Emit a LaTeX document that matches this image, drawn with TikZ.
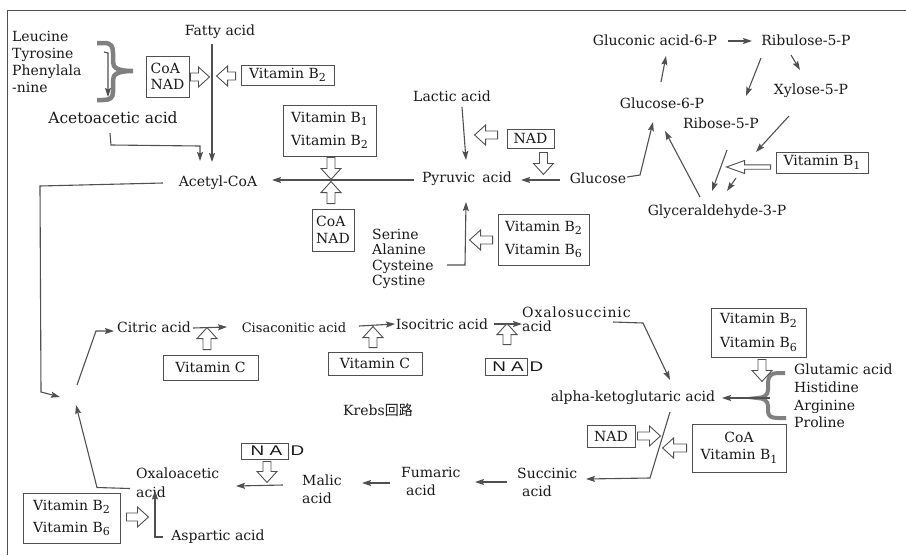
\documentclass[tikz,border=0pt]{standalone}
\usepackage{fontspec}
\setmainfont{DejaVu Serif}
\newfontfamily\nadfont[FakeStretch=1.35]{Liberation Sans}
\newfontfamily\cjk{Noto Sans CJK JP}
\usetikzlibrary{arrows.meta,calc}
\definecolor{linegray}{RGB}{80,80,80}
\definecolor{txtgray}{RGB}{25,25,25}
\definecolor{bracegray}{RGB}{128,128,128}
\tikzset{
    chem/.style={font=\fontsize{14}{17}\selectfont, text=txtgray, inner sep=0pt},
    chemlist/.style={chem, align=left, anchor=north west},
    chempair/.style={chem, align=left, anchor=west},
    vitbox/.style={draw=linegray, line width=0.9pt, font=\fontsize{14}{23}\selectfont,
                   text=txtgray, inner sep=0pt, align=left},
    nadbox/.style={draw=linegray, line width=0.9pt, font=\nadfont\fontsize{14}{16}\selectfont,
                   text=txtgray, inner sep=0pt},
    flow/.style={draw=linegray, line width=1.1pt, -{Stealth[length=9pt,width=6pt,inset=1.5pt]}},
    hollowarrow/.style={draw=linegray, line width=0.9pt, fill=white, line join=miter},
    bracepath/.style={draw=bracegray, line width=4.5pt},
    frame/.style={draw=linegray, line width=1pt},
}
% vitamin index
\newcommand{\vsub}[1]{\raisebox{-3.5pt}{\fontsize{11}{12}\selectfont #1}}
% hollow block arrow: [head half-width]{tail}{angle}{length}
\newcommand{\blockarrow}[4][10]{%
  \draw[hollowarrow, shift={#2}, rotate=#3]
    (0,-4) -- ({#4-11},-4) -- ({#4-11},-#1) -- (#4,0) -- ({#4-11},#1) -- ({#4-11},4) -- (0,4) -- cycle;}

\begin{document}
\begin{tikzpicture}[x=1pt, y=-1pt]
    \useasboundingbox (0,0) rectangle (906,555);
    \draw[frame] (906,10) -- (7,10) -- (7,555);

    % Amino acids to acetoacetic acid
    \node[chemlist] (amino) at (12,31) {Leucine\\Tyrosine\\Phenylala\\-nine};
    \draw[bracepath] (97,43) -- (104,43) .. controls (111,43) and (113,46) .. (113,53) -- (113,62)
        .. controls (113,68) and (118,71) .. (133,71) .. controls (118,71) and (113,74) .. (113,80)
        -- (113,92) .. controls (113,98) and (110,100) .. (103,100) -- (97,100);
    \node[chem, font=\fontsize{15.5}{17}\selectfont] (acac) at (113,118) {Acetoacetic acid};
    \draw[flow] ($(acac)+(-9,-66)$) -- ++(4,1) -- ($(acac)+(-5,-21)$);

    % Fatty acid
    \node[chem] (fatty) at (220,32) {Fatty acid};
    \node[vitbox, font=\fontsize{14}{16}\selectfont, minimum width=43, minimum height=41] (coanadA) at (167.5,76.5) {CoA\\NAD};
    \node[vitbox, minimum width=93, minimum height=20, align=center] (vitBtwoA) at (287.5,75) {Vitamin B\vsub{2}};
    \blockarrow{($(coanadA.east)+(1,0.5)$)}{0}{19}
    \blockarrow{($(vitBtwoA.west)+(-5,1)$)}{180}{19}

    % Acetyl-CoA
    \node[chem] (acetyl) at (218,183) {Acetyl-CoA};
    \draw[flow] ($(fatty)+(-8,12)$) -- ($(acetyl)+(-6,-21)$);
    \draw[flow] ($(acac)+(-3,15)$) -- ++(1,12) -- ($(acetyl)+(-18,-37)$) -- ($(acetyl)+(-18,-22)$);

    % Pyruvic acid
    \node[chem] (pyruvic) at (467,179) {Pyruvic\hspace{7pt}acid};
    \node[chem] (lactic) at (452,96) {Lactic acid};
    \node[chem] (glucose) at (598,178) {Glucose};
    \node[vitbox, minimum width=93, minimum height=51] (vitBonetwo) at (329.5,130.5) {Vitamin B\vsub{1}\\Vitamin B\vsub{2}};
    \node[vitbox, font=\fontsize{14}{17}\selectfont, minimum width=42, minimum height=42] (coanadB) at (333,230) {CoA\\NAD};
    \node[vitbox, minimum width=47, minimum height=19, align=center] (nadA) at (530.5,138.5) {NAD};
    \node[vitbox, minimum width=91, minimum height=51] (vitBtwosixA) at (543.5,239.5) {Vitamin B\vsub{2}\\Vitamin B\vsub{6}};
    \node[chemlist, font=\fontsize{14}{15.3}\selectfont] (serine) at (372,229) {Serine\\Alanine\\Cysteine\\Cystine};
    \draw[flow] ($(pyruvic)+(-53,1)$) -- ($(acetyl)+(54,-3)$);
    \draw[flow] ($(lactic)+(10,11)$) -- ($(pyruvic)+(-1,-19)$);
    \draw[flow] ($(glucose)+(-38,2)$) -- ($(pyruvic)+(54,1)$);
    \draw[flow] ($(serine.north west)+(75,36)$) -- ++(18,0) -- ($(pyruvic)+(-1,23)$);
    \blockarrow{($(vitBonetwo.south)+(1.5,1)$)}{-90}{22}
    \blockarrow{($(coanadB.north)+(-2,-5)$)}{90}{22}
    \blockarrow{($(nadA.west)+(-9,-3.5)$)}{180}{23}
    \blockarrow{($(nadA.south east)+(-11,4)$)}{-90}{22}
    \blockarrow{($(vitBtwosixA.west)+(-5,0.5)$)}{180}{23}

    % Pentose phosphate pathway
    \node[chem] (gluconic) at (655,40) {Gluconic acid-6-P};
    \node[chem] (ribulose) at (806,40) {Ribulose-5-P};
    \node[chem] (xylose) at (811,91) {Xylose-5-P};
    \node[chem] (gsixp) at (662,103) {Glucose-6-P};
    \node[chem] (ribose) at (721,123) {Ribose-5-P};
    \node[chem] (gap) at (717,212) {Glyceraldehyde-3-P};
    \node[vitbox, minimum width=92, minimum height=21, align=center] (vitBoneA) at (822,162.5) {Vitamin B\vsub{1}};
    \draw[flow] ($(gluconic)+(73,1)$) -- ($(ribulose)+(-54,1)$);
    \draw[flow] ($(gsixp)+(-1,-21)$) -- ($(gluconic)+(11,16)$);
    \draw[flow] ($(ribulose)+(-45,18)$) -- ($(ribose)+(25,-27)$);
    \draw[flow] ($(ribulose)+(-15,15)$) -- ($(xylose)+(-11,-21)$);
    \draw[flow] ($(glucose)+(29,-1)$) -- ++(13,-2) -- ($(gsixp)+(-9,19)$);
    \draw[flow] ($(gap)+(-17,-15)$) -- ($(gsixp)+(3,28)$);
    \draw[flow] ($(xylose)+(-22,25)$) -- ($(gap)+(39,-60)$);
    \draw[flow] ($(ribose)+(6,27)$) -- ($(gap)+(-5,-21)$);
    \draw[flow] ($(gap)+(19,-34)$) -- ($(gap)+(10,-21)$);
    \draw[hollowarrow, shift={($(vitBoneA.west)+(-5,4.5)$)}, rotate=180]
        (0,-2.2) -- (26,-2.2) -- (26,-6.5) -- (44,0) -- (26,6.5) -- (26,2.2) -- (0,2.2) -- cycle;

    % Krebs cycle
    \coordinate (tca) at (70,395);
    \draw[flow] ($(acetyl)+(-55,0)$) -- ++(-123,3) -- ++(1,206) -- ($(tca)+(-10,2)$);
    \node[chem] (citric) at (154,327) {Citric acid};
    \node[chem, font=\fontsize{13}{15}\selectfont] (cisacon) at (294,328) {Cisaconitic acid};
    \node[chem] (isocit) at (442,324) {Isocitric acid};
    \node[chempair, font=\fontsize{14}{14}\selectfont] (oxalos) at (522,319) {\addfontfeatures{LetterSpace=6}Oxalosuccinic\\acid};
    \node[vitbox, minimum width=95, minimum height=25, align=center] (vitCA) at (210.5,367.5) {Vitamin C};
    \node[vitbox, minimum width=94, minimum height=23, align=center] (vitCB) at (375,363.5) {Vitamin C};
    \node[nadbox, minimum width=42, minimum height=17] (nadB) at (506,366.5) {\hspace{4pt}N A};
    \node[chem, font=\nadfont\fontsize{14}{16}\selectfont, anchor=west] (nadBd) at ($(nadB.east)+(2,0)$) {D};
    \draw[flow] ($(tca)+(7,-10)$) -- ($(citric)+(-58,4)$) -- ($(citric)+(-40,4)$);
    \draw[flow] ($(citric)+(39,1)$) -- ($(cisacon)+(-67,-1)$);
    \draw[flow] ($(cisacon)+(65,-2)$) -- ($(isocit)+(-47,0)$);
    \draw[flow] ($(isocit)+(52,0)$) -- ($(oxalos.west)+(0,5)$);
    \blockarrow{($(vitCA.north)+(-3.5,-5)$)}{90}{22}
    \blockarrow{($(vitCB.north)+(-2,-4)$)}{90}{21}
    \blockarrow{($(nadB.north)+(1,-13)$)}{90}{21}

    \node[chem] (akg) at (633,398) {alpha-ketoglutaric acid};
    \node[vitbox, font=\fontsize{14}{24}\selectfont, minimum width=95, minimum height=49] (vitBtwosixB) at (758.5,332.5) {Vitamin B\vsub{2}\\Vitamin B\vsub{6}};
    \draw[bracepath, line width=4pt] (785,373) -- (778,373) .. controls (771,373) and (768,376) .. (768,383) -- (768,390)
        .. controls (768,395) and (764,398) .. (757,398) .. controls (764,398) and (768,401) .. (768,406)
        -- (768,411) .. controls (768,416) and (771,418) .. (778,418) -- (786,418);
    \node[chemlist, font=\fontsize{14}{17.7}\selectfont] (glut) at (794,364) {Glutamic acid\\Histidine\\Arginine\\Proline};
    \draw[flow] ($(oxalos.west)+(91,3)$) -- ++(30,1) -- ($(akg)+(37,-18)$);
    \draw[flow] ($(akg)+(137,0)$) -- ($(akg)+(89,0)$);
    \blockarrow{($(vitBtwosixB.south)+(3.5,2)$)}{-90}{22}

    \node[vitbox, minimum width=48, minimum height=22, align=center] (nadC) at (611,436) {NAD};
    \node[vitbox, font=\fontsize{14}{17}\selectfont, minimum width=94, minimum height=48, align=center] (coavbone) at (739,448) {CoA\\Vitamin B\vsub{1}};
    \node[chempair, font=\fontsize{14}{18}\selectfont] (succ) at (517,482) {Succinic\\\hspace{5pt}acid};
    \node[chempair, font=\fontsize{14}{18}\selectfont] (fum) at (401,481) {Fumaric\\\hspace{5pt}acid};
    \node[chempair, font=\fontsize{14}{18}\selectfont] (malic) at (302,489) {Malic\\acid};
    \node[chempair, font=\fontsize{14}{19}\selectfont] (oxalo) at (136,482.5) {Oxaloacetic\\acid};
    \draw[flow] ($(akg)+(37,14)$) -- ($(akg)+(17,80)$) -- ($(succ.west)+(69,-3)$);
    \blockarrow{($(nadC.east)+(2,0)$)}{0}{23}
    \blockarrow{($(coavbone.west)+(-5,0)$)}{180}{24}
    \draw[flow] ($(succ.west)+(-10,0)$) -- ($(fum.west)+(74,1)$);
    \draw[flow] ($(fum.west)+(-11,2)$) -- ($(malic.west)+(60,-6)$);
    \draw[flow] ($(malic.west)+(-19,-4)$) -- ($(oxalo.west)+(100,3.5)$);

    \node[nadbox, minimum width=47, minimum height=16] (nadD) at (264.5,451) {\hspace{4pt}N A};
    \node[chem, font=\nadfont\fontsize{14}{16}\selectfont, anchor=west] (nadDd) at ($(nadD.east)+(2,0)$) {D};
    \blockarrow{($(nadD.south)+(2.5,2)$)}{-90}{21}

    \node[chem] (aspartic) at (218,537) {Aspartic acid};
    \node[vitbox, font=\fontsize{14}{22}\selectfont, minimum width=97, minimum height=50] (vitBtwosixC) at (71.5,518) {Vitamin B\vsub{2}\\Vitamin B\vsub{6}};
    \draw[flow] ($(oxalo.west)+(-6,6)$) -- ($(oxalo.west)+(-39,5)$) -- ($(tca)+(6,10)$);
    \draw[flow] ($(aspartic)+(-55,0)$) -- ++(-8,0) -- ($(oxalo.west)+(19,8)$);
    \blockarrow{($(vitBtwosixC.east)+(6,-1)$)}{0}{22}

    \node[chem] (krebs) at (378,410) {Krebs{\cjk 回路}};
\end{tikzpicture}
\end{document}
